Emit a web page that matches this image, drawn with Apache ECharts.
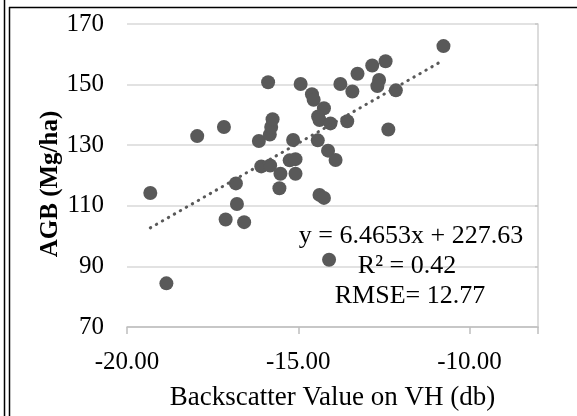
<!DOCTYPE html>
<html>
<head>
<meta charset="utf-8">
<script src="https://cdn.jsdelivr.net/npm/echarts@6/dist/echarts.min.js"></script>
<style>
html,body{margin:0;padding:0;background:#fff;}
#chart{width:577px;height:416px;}
</style>
</head>
<body>
<div id="chart"></div>
<script>
// Backscatter VH (db) values
var xValues = [-19.32, -18.85, -17.95, -17.17, -17.12, -16.82, -16.79, -16.58, -16.15, -16.08,
  -15.88, -15.83, -15.79, -15.75, -15.82, -15.55, -15.52, -15.25, -15.08, -15.08,
  -15.15, -14.93, -14.60, -14.55, -14.25, -14.42, -14.38, -14.06, -14.43, -14.13,
  -13.91, -14.38, -14.25, -14.10, -13.77, -13.42, -13.27, -13.57, -12.84, -12.45,
  -12.64, -12.69, -12.15, -12.37, -10.76];
// AGB (Mg/ha) values
var yValues = [114.2, 84.4, 133.0, 136.0, 105.5, 117.4, 110.6, 104.6, 131.4, 123.0,
  150.8, 133.5, 136.0, 138.6, 123.3, 115.8, 120.6, 125.0, 125.4, 120.6,
  131.7, 150.2, 146.8, 145.0, 142.2, 139.5, 138.3, 137.2, 131.6, 128.2,
  125.1, 113.6, 112.6, 92.2, 150.2, 147.7, 153.6, 137.9, 156.3, 157.7,
  151.5, 149.5, 148.1, 135.2, 162.7];
var trendSlope = 6.4653;
var trendIntercept = 227.63;
var xTicks = [-20, -15, -10];
var yTicks = [70, 90, 110, 130, 150, 170];
var xAxisTitle = 'Backscatter Value on VH (db)';
var yAxisTitle = 'AGB (Mg/ha)';
var annotationLines = ['y = 6.4653x + 227.63', 'R² = 0.42', 'RMSE= 12.77'];

var points = xValues.map(function (x, i) { return [x, yValues[i]]; });
var xmin = Math.min.apply(null, xValues), xmax = Math.max.apply(null, xValues);
var trend = [[xmin, trendSlope * xmin + trendIntercept], [xmax, trendSlope * xmax + trendIntercept]];

var FONT = '"Liberation Serif", "Times New Roman", serif';
var chart = echarts.init(document.getElementById('chart'), null, {renderer: 'canvas'});
var option = {
  animation: false,
  backgroundColor: '#ffffff',
  grid: {left: 127, right: 39, top: 24, bottom: 83},
  xAxis: {
    type: 'value', min: -20, max: -8, interval: 5,
    name: xAxisTitle, nameLocation: 'middle', nameGap: 57,
    nameTextStyle: {fontFamily: FONT, fontSize: 27, color: '#000'},
    axisLine: {show: true, onZero: false, lineStyle: {color: '#bfbfbf', width: 1.5}},
    axisTick: {show: true, length: 7, lineStyle: {color: '#bfbfbf', width: 1.5}},
    axisLabel: {fontFamily: FONT, fontSize: 25, color: '#000', margin: 23,
      formatter: function (v) { return xTicks.indexOf(v) >= 0 ? v.toFixed(2) : ''; }},
    splitLine: {show: false}
  },
  yAxis: [{
    type: 'value', min: 70, max: 170, interval: 20,
    axisLine: {show: false}, axisTick: {show: false},
    axisLabel: {fontFamily: FONT, fontSize: 25, color: '#000', margin: 23,
      formatter: function (v) { return yTicks.indexOf(v) >= 0 ? String(v) : ''; }},
    splitLine: {show: true, lineStyle: {color: '#d9d9d9', width: 1.5}}
  }, {
    type: 'value', min: 70, max: 170, interval: 20, position: 'right',
    axisLine: {show: true, lineStyle: {color: '#d0d0d0', width: 1.5}},
    axisTick: {show: true, inside: true, length: 3, lineStyle: {color: '#c8c8c8', width: 1.5}},
    axisLabel: {show: false}, splitLine: {show: false}
  }],
  series: [{
    type: 'scatter', data: points, symbol: 'circle', symbolSize: 14,
    itemStyle: {color: '#595959', opacity: 1}, z: 3
  }, {
    type: 'line', data: trend, showSymbol: false, symbol: 'none',
    lineStyle: {color: '#595959', width: 3, type: [0.5, 6.4], cap: 'round'}, z: 4
  }],
  graphic: [
    {type: 'line', shape: {x1: 4.5, y1: 0, x2: 4.5, y2: 416}, style: {stroke: '#000', lineWidth: 1.5}},
    {type: 'line', shape: {x1: 9.5, y1: 7, x2: 9.5, y2: 416}, style: {stroke: '#000', lineWidth: 1.5}},
    {type: 'line', shape: {x1: 9, y1: 7.5, x2: 577, y2: 7.5}, style: {stroke: '#000', lineWidth: 1.5}},
    {type: 'text', x: 51, y: 184, rotation: Math.PI / 2, style: {text: yAxisTitle, font: 'bold 25px ' + FONT, fill: '#000', textAlign: 'center', textVerticalAlign: 'middle'}, z: 10},
    {type: 'text', x: 411, y: 236, style: {text: annotationLines[0], font: '26px ' + FONT, fill: '#000', textAlign: 'center', textVerticalAlign: 'middle'}, z: 10},
    {type: 'text', x: 407, y: 266, style: {text: annotationLines[1], font: '26px ' + FONT, fill: '#000', textAlign: 'center', textVerticalAlign: 'middle'}, z: 10},
    {type: 'text', x: 410, y: 296, style: {text: annotationLines[2], font: '26px ' + FONT, fill: '#000', textAlign: 'center', textVerticalAlign: 'middle'}, z: 10}
  ]
};
chart.setOption(option);
</script>
</body>
</html>
